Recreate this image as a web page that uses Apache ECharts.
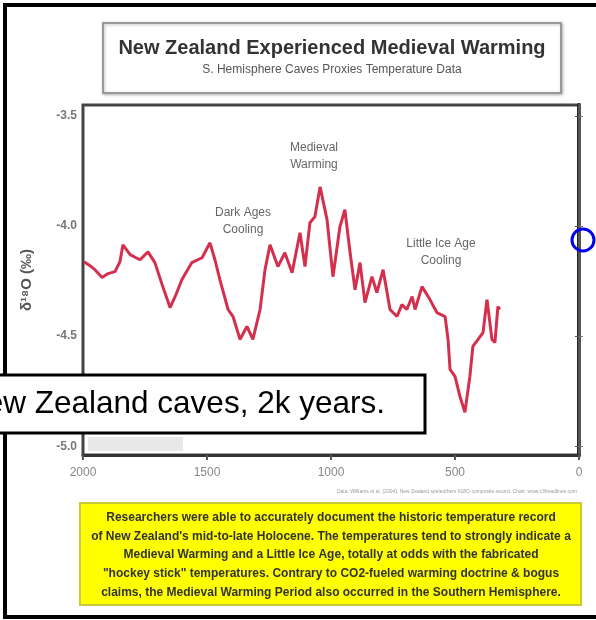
<!DOCTYPE html>
<html>
<head>
<meta charset="utf-8">
<title>New Zealand Experienced Medieval Warming</title>
<script src="https://cdn.jsdelivr.net/npm/echarts@6/dist/echarts.min.js"></script>
<style>
	html, body { margin: 0; padding: 0; background: #fff; }
	#chart1 { width: 596px; height: 620px; }
</style>
</head>
<body>
<div id="chart1"></div>
<script>
//数据 (years BP)
var years = [1996, 1972, 1952, 1923, 1899, 1871, 1851, 1839, 1810, 1786, 1770, 1738, 1710, 1681, 1649, 1625, 1601, 1561, 1520, 1488,
	1468, 1448, 1415, 1395, 1367, 1339, 1315, 1286, 1266, 1246, 1214, 1186, 1157, 1125, 1105, 1085, 1065, 1044, 1016, 992,
	964, 944, 923, 903, 883, 863, 835, 815, 790, 762, 734, 714, 694, 673, 661, 633, 601, 573, 540, 528,
	520, 500, 480, 460, 440, 428, 407, 387, 371, 351, 339, 327, 319];
var d18O = [-4.162, -4.180, -4.198, -4.234, -4.216, -4.207, -4.162, -4.085, -4.130, -4.144, -4.153, -4.117, -4.166, -4.266, -4.370, -4.311, -4.243, -4.166, -4.144, -4.076,
	-4.153, -4.243, -4.379, -4.411, -4.515, -4.456, -4.515, -4.379, -4.198, -4.085, -4.184, -4.121, -4.212, -4.030, -4.184, -3.985, -3.958, -3.822, -3.971, -4.230,
	-4.003, -3.926, -4.121, -4.289, -4.166, -4.348, -4.230, -4.302, -4.198, -4.379, -4.411, -4.357, -4.379, -4.320, -4.379, -4.275, -4.334, -4.393, -4.411, -4.515,
	-4.651, -4.683, -4.774, -4.846, -4.683, -4.547, -4.515, -4.484, -4.334, -4.515, -4.529, -4.366, -4.379];
var yTicks = [-5.0, -4.5, -4.0, -3.5];

var titleText = 'New Zealand Experienced Medieval Warming';
var subText = 'S. Hemisphere Caves Proxies Temperature Data';
var noteLines = [
	'Researchers were able to accurately document the historic temperature record',
	'of New Zealand\'s mid-to-late Holocene. The temperatures tend to strongly indicate a',
	'Medieval Warming and a Little Ice Age, totally at odds with the fabricated',
	'"hockey stick" temperatures. Contrary to CO2-fueled warming doctrine & bogus',
	'claims, the Medieval Warming Period also occurred in the Southern Hemisphere.'
];

(function() {
	var seriesData = [];
	for (var i = 0; i < years.length; i++) {
		seriesData.push([years[i], d18O[i]]);
	}

	var option = {
		animation: false,
		backgroundColor: '#fff',
		textStyle: { fontFamily: 'Liberation Sans, Arial, sans-serif' },
		grid: {
			left: 83, right: 17, top: 105, bottom: 165,
			show: true, borderColor: '#444', borderWidth: 3
		},
		xAxis: {
			type: 'value', min: 0, max: 2000, interval: 500, inverse: true,
			axisLine: { show: true, lineStyle: { color: '#333', width: 3 } },
			axisTick: { show: true, length: 5, lineStyle: { color: '#555', width: 2 } },
			axisLabel: { color: '#888', fontSize: 12, margin: 12, formatter: function(v) { return String(v); } },
			splitLine: { show: false }
		},
		yAxis: [{
			type: 'value', min: -5.04, max: -3.45, position: 'left',
			name: 'δ¹⁸O (‰)', nameLocation: 'middle', nameRotate: 90, nameGap: 49,
			nameTextStyle: { color: '#555', fontSize: 15, fontWeight: 'bold' },
			axisLine: { show: true, lineStyle: { color: '#222', width: 4 } },
			axisTick: { show: true, length: 4, customValues: yTicks, lineStyle: { color: '#555' } },
			axisLabel: {
				customValues: yTicks, color: '#777', fontSize: 12, fontWeight: 'bold', margin: 6,
				formatter: function(v) { return v.toFixed(1); }
			},
			splitLine: { show: false }
		}, {
			type: 'value', min: -5.04, max: -3.45, position: 'right',
			axisLine: { show: true, lineStyle: { color: '#555', width: 3 } },
			axisTick: { show: true, length: 4, customValues: yTicks, lineStyle: { color: '#777' } },
			axisLabel: { show: false },
			splitLine: { show: false }
		}],
		series: [{
			type: 'line',
			data: seriesData,
			showSymbol: false,
			lineStyle: { color: '#d4304e', width: 3 }
		}],
		graphic: [
			// outer frame
			{ type: 'rect', shape: { x: 5, y: 5, width: 700, height: 612 }, style: { fill: null, stroke: '#000', lineWidth: 4 }, silent: true },
			// title box
			{ type: 'rect', shape: { x: 103, y: 23, width: 458, height: 70 }, style: { fill: '#fff', stroke: '#999', lineWidth: 2, shadowBlur: 3, shadowColor: 'rgba(0,0,0,0.25)', shadowOffsetX: 1, shadowOffsetY: 1 } },
			{ type: 'text', x: 332, y: 48, style: { text: titleText, fill: '#333', font: 'bold 20px Liberation Sans, Arial, sans-serif', textAlign: 'center', textVerticalAlign: 'middle' } },
			{ type: 'text', x: 332, y: 70, style: { text: subText, fill: '#555', font: '12px Liberation Sans, Arial, sans-serif', textAlign: 'center', textVerticalAlign: 'middle' } },
			// annotations
			{ type: 'text', x: 243, y: 221, style: { text: 'Dark Ages\nCooling', fill: '#666', font: '12px Liberation Sans, Arial, sans-serif', lineHeight: 17, textAlign: 'center', textVerticalAlign: 'middle' } },
			{ type: 'text', x: 314, y: 156, style: { text: 'Medieval\nWarming', fill: '#666', font: '12px Liberation Sans, Arial, sans-serif', lineHeight: 17, textAlign: 'center', textVerticalAlign: 'middle' } },
			{ type: 'text', x: 441, y: 252, style: { text: 'Little Ice Age\nCooling', fill: '#666', font: '12px Liberation Sans, Arial, sans-serif', lineHeight: 17, textAlign: 'center', textVerticalAlign: 'middle' } },
			// faint label inside plot
			{ type: 'rect', shape: { x: 88, y: 437, width: 95, height: 14 }, style: { fill: '#e8e8e8' } },
			// credit line
			{ type: 'text', x: 577, y: 492, style: { text: 'Data: Williams et al. (2004), New Zealand speleothem δ18O composite record. Chart: www.c3headlines.com', fill: '#999', font: '5px Liberation Sans, Arial, sans-serif', textAlign: 'right', textVerticalAlign: 'middle' } },
			// yellow note
			{ type: 'rect', shape: { x: 80, y: 503, width: 501, height: 102 }, style: { fill: '#ffff00', stroke: '#c9c93a', lineWidth: 2 } },
			{ type: 'text', x: 331, y: 555, style: { text: noteLines.join('\n'), fill: '#333', font: 'bold 12px Liberation Sans, Arial, sans-serif', lineHeight: 18.75, textAlign: 'center', textVerticalAlign: 'middle' } },
			// caption overlay
			{ type: 'rect', z: 100, shape: { x: -10, y: 375, width: 435, height: 58 }, style: { fill: '#fff', stroke: '#000', lineWidth: 3 } },
			{ type: 'text', z: 101, x: -37, y: 404, style: { text: 'New Zealand caves, 2k years.', fill: '#000', font: '31.5px Liberation Sans, Arial, sans-serif', textVerticalAlign: 'middle' } },
			// blue pointer ring
			{ type: 'circle', z: 100, shape: { cx: 583, cy: 240, r: 11 }, style: { fill: null, stroke: '#0000ee', lineWidth: 3 } }
		]
	};

	var myChart = echarts.init(document.getElementById('chart1'));
	myChart.setOption(option);
})();
</script>
</body>
</html>
